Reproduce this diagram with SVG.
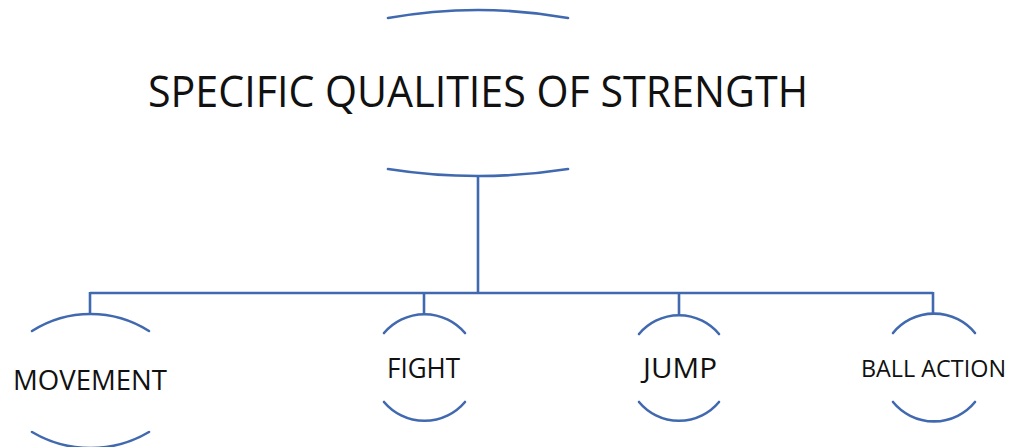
<svg xmlns="http://www.w3.org/2000/svg" width="1011" height="447" viewBox="0 0 1011 447">
<style>
.arc{fill:none;stroke:#4169b0;stroke-width:2.6;stroke-linecap:round}
.ln{fill:none;stroke:#4169b0;stroke-width:2.6}
.t{font-family:"Open Sans","Liberation Sans",sans-serif;fill:#111}
</style>
<rect width="1011" height="447" fill="#fff"/>
<g id="connectors">
<path class="ln" d="M478,176 V293 M90,293 H933 M90,292 V314 M424,292 V314 M679,292 V314 M933,292 V314"/>
</g>
<g id="title">
<path class="arc" d="M388,18 A510,510 0 0 1 568,18"/>
<path class="arc" d="M388,169 A582,582 0 0 0 568,169"/>
<text class="t" x="148" y="107" font-size="44" textLength="660" lengthAdjust="spacingAndGlyphs">SPECIFIC QUALITIES OF STRENGTH</text>
</g>
<g id="movement">
<path class="arc" d="M32,331 A109,109 0 0 1 149,331"/>
<path class="arc" d="M32,432 A115,115 0 0 0 149,432"/>
<text class="t" x="13" y="390" font-size="28" textLength="154" lengthAdjust="spacingAndGlyphs">MOVEMENT</text>
</g>
<g id="fight">
<path class="arc" d="M384,333 A53,53 0 0 1 465,333"/>
<path class="arc" d="M384,402 A53,53 0 0 0 465,402"/>
<text class="t" x="387" y="378" font-size="28" textLength="73" lengthAdjust="spacingAndGlyphs">FIGHT</text>
</g>
<g id="jump">
<path class="arc" d="M639,334 A52,52 0 0 1 719,334"/>
<path class="arc" d="M639,402 A52,52 0 0 0 719,402"/>
<text class="t" x="643" y="378" font-size="28" textLength="74" lengthAdjust="spacingAndGlyphs">JUMP</text>
</g>
<g id="ball-action">
<path class="arc" d="M893,333 A53,53 0 0 1 975,333"/>
<path class="arc" d="M893,402 A53,53 0 0 0 975,402"/>
<text class="t" x="861" y="377" font-size="24" textLength="145" lengthAdjust="spacingAndGlyphs">BALL ACTION</text>
</g>
</svg>
